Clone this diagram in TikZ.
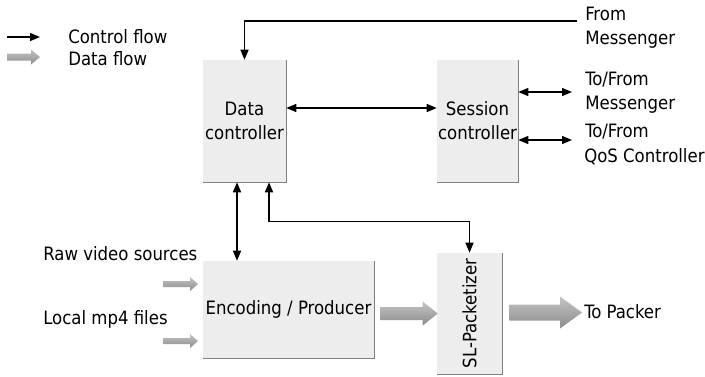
\documentclass[tikz,border=0pt]{standalone}
\usepackage{fontspec}
\setmainfont{DejaVu Sans Condensed}
\usetikzlibrary{arrows.meta,calc}

\definecolor{boxfill}{RGB}{237,237,237}
\definecolor{boxedge}{RGB}{128,128,128}
\definecolor{flowtop}{RGB}{196,196,196}
\definecolor{flowbot}{RGB}{140,140,140}

\tikzset{
  block/.style={fill=boxfill, draw=none, inner sep=0pt, align=center,
    font=\fontsize{13.8}{18}\selectfont},
  label/.style={inner sep=0pt, align=left, font=\fontsize{13.8}{18}\selectfont},
  ctrl/.style={line width=1pt, draw=black,
    {Triangle[length=7.5pt,width=6pt]}-{Triangle[length=7.5pt,width=6pt]}},
  ctrlone/.style={line width=1pt, draw=black, -{Triangle[length=7.5pt,width=6pt]}},
  dataflow/.style={top color=flowtop, bottom color=flowbot, draw=none},
}

% gray block arrow: start, tip, shaft half-height, head half-height, head length
\newcommand{\blockarrow}[5]{%
  \path[dataflow] ($(#1)+(0,-#3)$) -- ($(#2)+(-#5,-#3)$) -- ($(#2)+(-#5,-#4)$)
    -- (#2) -- ($(#2)+(-#5,#4)$) -- ($(#2)+(-#5,#3)$) -- ($(#1)+(0,#3)$) -- cycle;}

\begin{document}
\begin{tikzpicture}[x=0.75pt,y=-0.75pt]
\useasboundingbox (0,0) rectangle (705,376);

% blocks
\node[block, minimum width=62.25pt, minimum height=91.5pt] (dc) at (244.5,121) {Data\\controller};
\node[block, minimum width=60.75pt, minimum height=91.5pt] (sc) at (477.5,121) {Session\\controller};
\node[block, minimum width=128.25pt, minimum height=72.75pt] (enc) at (288.5,309.5) {Encoding / Producer};
\node[block, minimum width=48.75pt, minimum height=90.75pt] (sl) at (469.5,313.5) {\rotatebox{90}{SL-Packetizer}};

% shadowed right and bottom edges
\foreach \b in {dc,sc,enc,sl}
  \draw[boxedge, line width=0.9pt] (\b.north east) -- (\b.south east) -- (\b.south west);

% legend
\coordinate (lc0) at (7,37);
\coordinate (lc1) at (40,37);
\draw[ctrlone] (lc0) -- (lc1);
\node[label, anchor=base west] (lctrl) at (68,43) {Control flow};
\coordinate (ld0) at (7,57);
\coordinate (ld1) at (40,57);
\blockarrow{ld0}{ld1}{3.5}{7.5}{9}
\node[label, anchor=base west] (ldata) at (68,65) {Data flow};

% outside labels
\node[label, anchor=base west] (fm) at (585,20) {From};
\node[label, anchor=base west] (fm2) at (585,44) {Messenger};
\node[label, anchor=base west] (tm) at (585,85) {To/From};
\node[label, anchor=base west] (tm2) at (585,109) {Messenger};
\node[label, anchor=base west] (tq) at (585,137) {To/From};
\node[label, anchor=base west] (tq2) at (584,162) {QoS Controller};
\node[label, anchor=base west] (raw) at (43,260) {Raw video sources};
\node[label, anchor=base west] (loc) at (43,324) {Local mp4 files};
\node[label, anchor=base west] (pk) at (584,318) {To Packer};

% control flow
\coordinate (fmend) at (577,21);
\draw[ctrlone] (fmend) -| (dc.north);
\draw[ctrl] ($(dc.east)+(0,-13)$) -- ($(sc.west)+(0,-13)$);
\coordinate (tmend) at (572,92);
\draw[ctrl] (sc.east |- tmend) -- (tmend);
\coordinate (tqend) at (572,140);
\draw[ctrl] (sc.east |- tqend) -- (tqend);
\draw[ctrl] ($(dc.south)+(-7.5,0)$) coordinate (dv) -- (dv |- enc.north);
\draw[ctrl] ($(dc.south)+(24.5,0)$) -- ++(0,39) -| (sl.north);

% data flow
\coordinate (in1) at (163,284);
\coordinate (in1e) at (198,284);
\coordinate (in2) at (163,341);
\coordinate (in2e) at (198,341);
\blockarrow{in1}{in1e}{3}{7}{8}
\blockarrow{in2}{in2e}{3}{7}{8}
\coordinate (es0) at ($(enc.east |- sl.west)+(6,0)$);
\coordinate (es1) at ($(sl.west)+(1,0)$);
\blockarrow{es0}{es1}{6.5}{12}{15}
\coordinate (sp0) at ($(sl.east)+(7,-1)$);
\coordinate (sp1) at ($(pk.west |- sp0)+(-2,0)$);
\blockarrow{sp0}{sp1}{8}{16}{22}
\end{tikzpicture}
\end{document}
